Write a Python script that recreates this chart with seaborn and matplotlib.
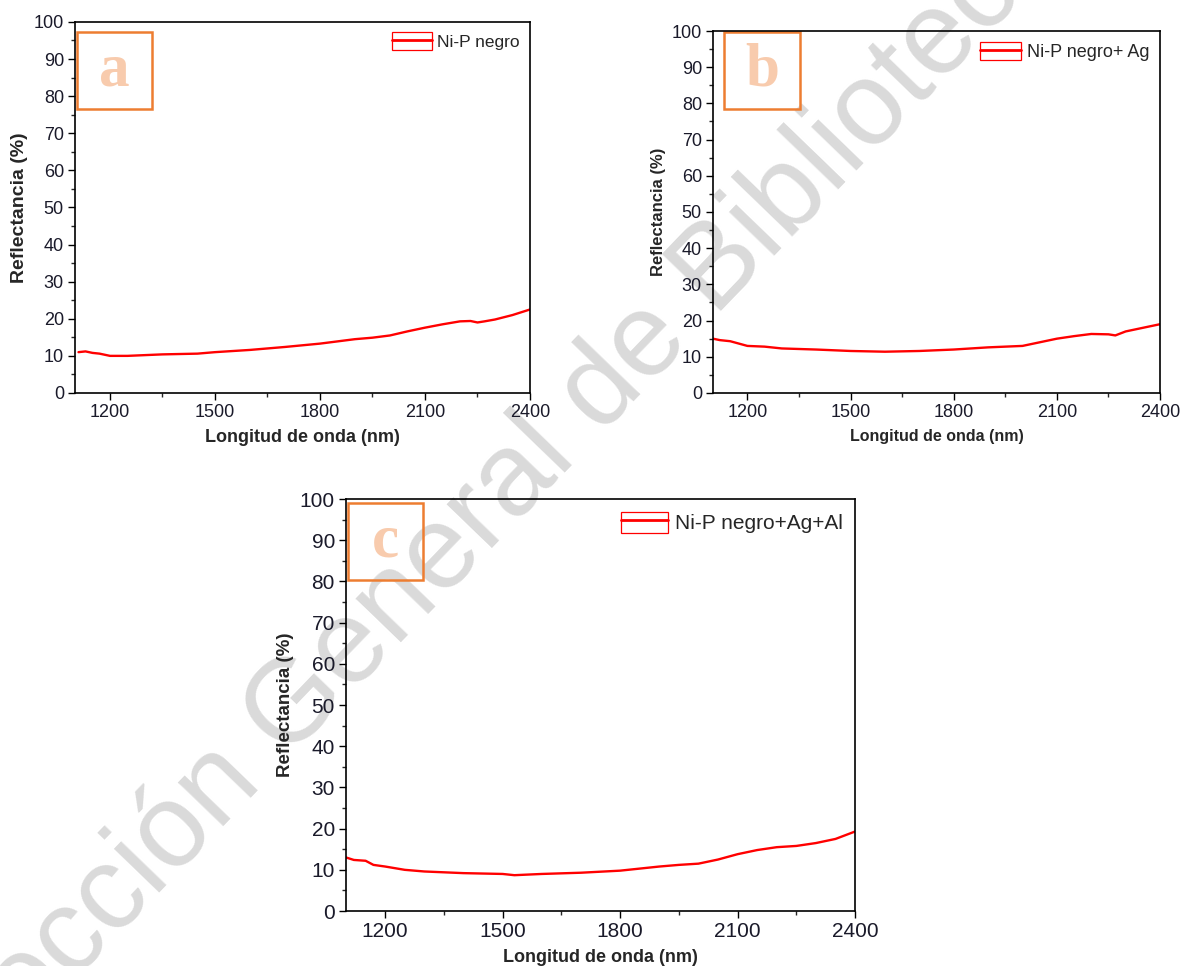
import matplotlib
matplotlib.use("Agg")
import matplotlib.pyplot as plt
from matplotlib.patches import Rectangle, Patch
from matplotlib.lines import Line2D
from matplotlib.legend_handler import HandlerTuple
from matplotlib.ticker import MultipleLocator
import seaborn as sns

# wavelength (nm) / reflectance (%)
wl_a = [1110, 1130, 1150, 1170, 1200, 1250, 1300, 1350, 1400, 1450, 1500, 1600, 1700, 1800, 1900, 1950, 2000, 2050, 2100, 2150, 2200, 2230, 2250, 2270, 2300, 2350, 2400]
ref_a = [11.0, 11.2, 10.8, 10.6, 10.0, 10.0, 10.2, 10.4, 10.5, 10.6, 11.0, 11.6, 12.4, 13.3, 14.5, 14.9, 15.5, 16.6, 17.6, 18.5, 19.3, 19.4, 19.0, 19.3, 19.8, 21.0, 22.5]

wl_b = [1100, 1120, 1150, 1200, 1250, 1300, 1400, 1500, 1600, 1700, 1800, 1900, 1950, 2000, 2050, 2100, 2150, 2200, 2250, 2270, 2300, 2350, 2400]
ref_b = [15.0, 14.6, 14.3, 13.0, 12.8, 12.3, 12.0, 11.6, 11.4, 11.6, 12.0, 12.6, 12.8, 13.0, 14.0, 15.0, 15.7, 16.3, 16.2, 15.9, 17.0, 18.0, 19.0]

wl_c = [1100, 1120, 1150, 1170, 1200, 1250, 1300, 1400, 1500, 1530, 1600, 1700, 1800, 1900, 1950, 2000, 2050, 2100, 2150, 2200, 2250, 2300, 2350, 2400]
ref_c = [13.0, 12.4, 12.2, 11.2, 10.8, 10.0, 9.6, 9.2, 9.0, 8.7, 9.0, 9.3, 9.8, 10.8, 11.2, 11.5, 12.5, 13.8, 14.8, 15.5, 15.8, 16.5, 17.5, 19.3]

labels = ["Ni-P negro", "Ni-P negro+ Ag", "Ni-P negro+Ag+Al"]
letters = ["a", "b", "c"]

sns.set_style("ticks")
plt.rcParams["font.family"] = ["Liberation Sans", "DejaVu Sans"]

fig = plt.figure(figsize=(11.83, 9.66), dpi=100)

# watermark behind everything
fig.text(0.418, 0.481, "Dirección General de Bibliotecas", fontsize=85, color="#dadada",
         rotation=46, ha="center", va="center", rotation_mode="anchor", zorder=-1)

panels = [
    dict(rect=[0.0634, 0.5932, 0.3846, 0.3841], x=wl_a, y=ref_a, box=(0.004, 0.765, 0.165, 0.208),
         tick=13, ylab=14, xlab=13, leg=12.5),
    dict(rect=[0.6027, 0.5932, 0.3779, 0.3747], x=wl_b, y=ref_b, box=(0.025, 0.785, 0.170, 0.212),
         tick=13, ylab=12, xlab=11.5, leg=13),
    dict(rect=[0.2925, 0.0569, 0.4303, 0.4265], x=wl_c, y=ref_c, box=(0.004, 0.803, 0.147, 0.187),
         tick=15, ylab=13.5, xlab=13, leg=15),
]

for p, lbl, let in zip(panels, labels, letters):
    ax = fig.add_axes(p["rect"])
    ax.set_facecolor("none")
    sns.lineplot(x=p["x"], y=p["y"], ax=ax, color="red", lw=1.7)
    ax.set_xlim(1100, 2400)
    ax.set_ylim(0, 100)
    ax.xaxis.set_major_locator(MultipleLocator(300))
    ax.xaxis.set_minor_locator(MultipleLocator(150))
    ax.yaxis.set_major_locator(MultipleLocator(10))
    ax.yaxis.set_minor_locator(MultipleLocator(5))
    ax.tick_params(which="major", length=5, width=1, labelsize=p["tick"], colors="black",
                   labelcolor="#1a1a2a", pad=3)
    ax.tick_params(which="minor", length=3, width=1)
    for s in ax.spines.values():
        s.set_linewidth(1.2)
        s.set_color("black")
    ax.set_xlabel("Longitud de onda (nm)", fontsize=p["xlab"], fontweight="bold", labelpad=6)
    ax.set_ylabel("Reflectancia (%)", fontsize=p["ylab"], fontweight="bold", labelpad=4)

    bx, by, bw, bh = p["box"]
    ax.add_patch(Rectangle((bx, by), bw, bh, transform=ax.transAxes, fill=False,
                           edgecolor="#ed7d31", lw=1.8, clip_on=False))
    ax.text(bx + bw / 2, by + bh / 2, let, transform=ax.transAxes, ha="center", va="center",
            fontsize=44, fontweight="bold", family="Liberation Serif", color="#f8cbad")

    handle = (Patch(facecolor="none", edgecolor="red", lw=0.9), Line2D([], [], color="red", lw=2))
    ax.legend([handle], [lbl], handler_map={tuple: HandlerTuple(ndivide=1)}, loc="upper right",
              frameon=False, fontsize=p["leg"], handlelength=2.3, handleheight=1.2,
              handletextpad=0.3, borderaxespad=0.2)

fig.savefig("out.png", dpi=100)
